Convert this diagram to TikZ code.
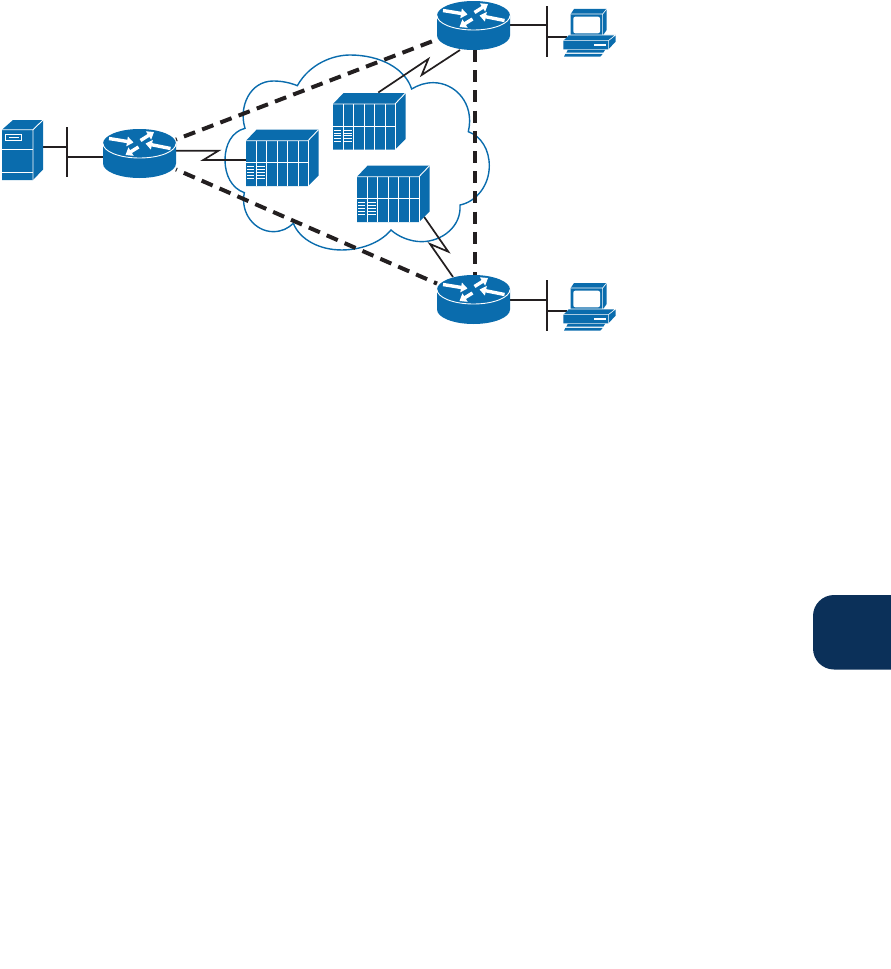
\documentclass[tikz,border=0pt]{standalone}
\usetikzlibrary{arrows.meta}
\definecolor{ciscoblue}{HTML}{0A6CAD}
\definecolor{tabnavy}{HTML}{0B3059}
\definecolor{linkblack}{HTML}{231F20}
\tikzset{
  box/.style={inner sep=0pt,outer sep=0pt,minimum width=#1},
  thinlink/.style={draw=linkblack,line width=1.7pt,line join=miter},
  barlink/.style={draw=linkblack,line width=1.8pt},
  tunnel/.style={draw=linkblack,line width=4pt,dash pattern=on 12pt off 7.5pt,dash phase=11pt},
  plumb/.style={draw=linkblack,line width=4pt,dash pattern=on 12pt off 8.2pt},
  cloudline/.style={draw=ciscoblue,line width=1.4pt,line join=miter},
  bodyfill/.style={fill=ciscoblue},
  whiteline/.style={draw=white,line width=.9pt},
  turn/.style={draw=white,line width=3.4pt,-{Triangle[length=6.5pt,width=9.5pt]}}
}
% router icon, centre of the top ellipse at (#1,#2)
\newcommand{\routericon}[2]{%
  \begin{scope}[shift={(#1,#2)}]
    \path[bodyfill] (-36.5,0) -- (-36.5,20) arc[start angle=180,end angle=0,x radius=36.5,y radius=14.5] -- (36.5,0) arc[start angle=0,end angle=-180,x radius=36.5,y radius=14.5] -- cycle;
    \draw[whiteline] (-36.5,0) arc[start angle=180,end angle=0,x radius=36.5,y radius=14.5];
    \draw[turn] (-30.5,-5) -- (-6,-1);
    \draw[turn] (31,5) -- (6,0);
    \draw[turn] (1,-3) -- (14.5,-11.5);
    \draw[turn] (-1,3.5) -- (-14,11.5);
  \end{scope}}
% equipment chassis, top left corner of the front at (#1,#2)
\newcommand{\chassisicon}[2]{%
  \begin{scope}[shift={(#1,#2)}]
    \path[bodyfill] (0,0) -- (10.5,-11) -- (72.5,-11) -- (72.5,35) -- (62,45.5) -- (0,45.5) -- cycle;
    \draw[whiteline] (0,0) -- (62,0) -- (72.5,-11);
    \draw[whiteline] (62,0) -- (62,45.5);
    \draw[whiteline] (0,22) -- (62,22);
    \foreach \cx in {10,20.3,31,41.3,52} \draw[whiteline] (\cx,0) -- (\cx,45.5);
    \foreach \ly in {26,28.8,31.7,34.5,37.3} {
      \draw[draw=white,line width=.6pt] (.8,\ly) -- (8,\ly);
      \draw[draw=white,line width=.6pt] (11,\ly) -- (18.7,\ly);
    }
  \end{scope}}
% terminal icon, shift to (#1,#2); coordinates in 1/3 px
\newcommand{\pcicon}[2]{%
  \begin{scope}[shift={(#1,#2)},x=.3333pt,y=-.3333pt]
    \path[bodyfill] (47,42) -- (57,27) -- (155,27) -- (155,90) -- (143,107) -- (47,107) -- cycle;
    \draw[draw=white,line width=.6pt] (47,42) -- (143,42) -- (155,27) (143,42) -- (143,107);
    \path[fill=white,rounded corners=2pt] (55,50) rectangle (135,100);
    \path[bodyfill] (25,122) -- (42,105) -- (182,105) -- (182,125) -- (160,148) -- (25,148) -- cycle;
    \draw[draw=white,line width=.6pt] (25,122) -- (160,122) -- (182,105) (160,122) -- (160,148) (42,105) -- (182,105);
    \path[fill=white] (118,133) rectangle (153,138);
    \path[bodyfill] (38,150) -- (150,150) -- (145,158) -- (34,158) -- cycle;
    \path[bodyfill] (31,162) -- (143,162) -- (136,170) -- (27,170) -- cycle;
  \end{scope}}
\begin{document}
\begin{tikzpicture}[x=1pt,y=-1pt]
\useasboundingbox (0,0) rectangle (891,969);
% side tab
\path[fill=tabnavy,rounded corners=21pt] (891,595) -- (813,595) -- (813,669.5) -- (891,669.5);
% cloud
\begin{scope}[shift={(210,40)},x=.3333pt,y=-.3333pt]
  \draw[cloudline] (262,137) .. controls (300,70) and (370,45) .. (420,45)
    .. controls (510,45) and (585,85) .. (605,147)
    .. controls (625,135) and (645,128) .. (670,128)
    .. controls (735,128) and (795,190) .. (775,275)
    .. controls (815,290) and (838,330) .. (838,378)
    .. controls (838,435) and (800,485) .. (750,495)
    .. controls (755,560) and (695,605) .. (635,605)
    .. controls (600,605) and (565,590) .. (543,570)
    .. controls (510,610) and (450,630) .. (395,630)
    .. controls (330,630) and (270,600) .. (250,550)
    .. controls (235,565) and (215,575) .. (190,575)
    .. controls (135,575) and (90,520) .. (103,458)
    .. controls (65,445) and (45,405) .. (45,360)
    .. controls (45,315) and (65,275) .. (105,265)
    .. controls (85,200) and (120,123) .. (190,123)
    .. controls (215,123) and (240,128) .. (262,137) -- cycle;
\end{scope}
% node frames
\node[box=73pt,minimum height=49pt] (r1) at (139.5,153.5) {};
\node[box=73pt,minimum height=49pt] (r2) at (473.5,25.5) {};
\node[box=73pt,minimum height=49pt] (r3) at (473.5,299.5) {};
\node[box=41pt,minimum height=60pt] (srv) at (22.5,150) {};
\node[box=46pt,minimum height=50pt] (pc1) at (590,33) {};
\node[box=46pt,minimum height=50pt] (pc2) at (590,307) {};
\node[box=72.5pt,minimum height=56.5pt] (c1) at (282.3,158) {};
\node[box=72.5pt,minimum height=56.5pt] (c2) at (369.3,121) {};
\node[box=72.5pt,minimum height=56.5pt] (c3) at (393.3,193.5) {};
% bars
\coordinate (b1t) at (67,127); \coordinate (b1b) at (67,177);
\coordinate (b2t) at (547,6);  \coordinate (b2b) at (547,56.5);
\coordinate (b3t) at (547,280); \coordinate (b3b) at (547,331);
\draw[barlink] (b1t) -- (b1b);
\draw[barlink] (b2t) -- (b2b);
\draw[barlink] (b3t) -- (b3b);
\coordinate (j1) at (67,147); \coordinate (j2) at (67,157);
\draw[barlink] (srv.east |- j1) -- (j1);
\draw[barlink] (j2) -- (r1.west |- j2);
\coordinate (j3) at (547,25); \coordinate (j4) at (547,36.7);
\draw[barlink] (r2.east |- j3) -- (j3);
\draw[barlink] (j4) -- (pc1.west |- j4);
\coordinate (j5) at (547,300); \coordinate (j6) at (547,310.7);
\draw[barlink] (r3.east |- j5) -- (j5);
\draw[barlink] (j6) -- (pc2.west |- j6);
% serial links
\coordinate (z1) at (218.5,150.7); \coordinate (z2) at (203.3,160);
\draw[thinlink] (r1.east |- z1) -- (z1) -- (z2) -- (c1.west |- z2);
\coordinate (z3) at (428.3,59); \coordinate (z4) at (421.7,75);
\coordinate (s2a) at (378.3,92.5); \coordinate (s2b) at (460,50);
\draw[thinlink] (s2a) -- (z3) -- (z4) -- (s2b);
\coordinate (z5) at (448.3,251.7); \coordinate (z6) at (430,244);
\coordinate (s3a) at (424,216.7); \coordinate (s3b) at (453,277);
\draw[thinlink] (s3a) -- (z5) -- (z6) -- (s3b);
% tunnels
\draw[tunnel] (r1) -- (r2);
\draw[tunnel] (r1) -- (r3);
\draw[plumb] ([xshift=1.5pt]r2.south) -- ([xshift=1.5pt]r3.north);
% icons
\routericon{139.5}{143.5}
\routericon{473.5}{15.5}
\routericon{473.5}{289.5}
\chassisicon{246}{140.7}
\chassisicon{333}{104}
\chassisicon{357}{176.7}
\pcicon{555}{0}
\pcicon{555}{274}
% server
\path[bodyfill] (2,129.7) -- (13,120) -- (43,120) -- (43,169.5) -- (33,180) -- (2,180) -- cycle;
\draw[whiteline] (2,129.7) -- (33,129.7) -- (43,120) (33,129.7) -- (33,180);
\draw[whiteline] (2,149.5) -- (33,149.5) (2,172) -- (33,172);
\draw[draw=white,line width=.7pt] (5.5,134.5) rectangle (21.5,140.5);
\draw[draw=white,line width=.7pt] (8.5,137.5) -- (18.5,137.5);
\end{tikzpicture}
\end{document}
